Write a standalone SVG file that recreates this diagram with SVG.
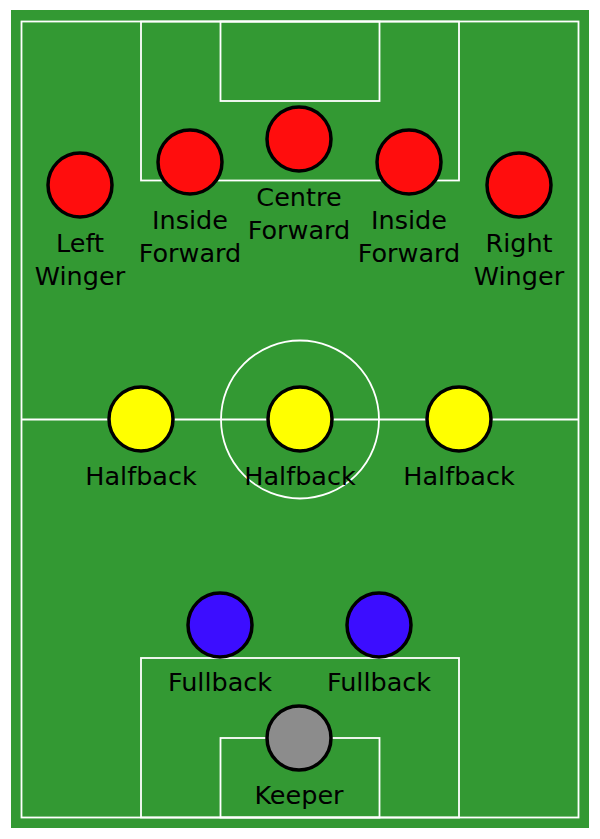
<svg xmlns="http://www.w3.org/2000/svg" width="600" height="839" viewBox="0 0 600 839">
<style>
.line{fill:none;stroke:#fff;stroke-width:1.8}
.p{stroke:#000;stroke-width:3.5}
.fw{fill:#ff0d0d}.hb{fill:#ffff00}.fb{fill:#3c0dff}.gk{fill:#8c8c8c}
text{font-family:"DejaVu Sans","Liberation Sans",sans-serif;font-size:25.5px;fill:#000;text-anchor:middle}
</style>
<rect x="0" y="0" width="600" height="839" fill="#fff"/>
<g id="pitch">
<rect x="11" y="10" width="578" height="818" fill="#339933"/>
<rect class="line" x="21.5" y="21.5" width="557" height="796"/>
<rect class="line" x="141" y="21.5" width="318" height="159"/>
<rect class="line" x="220.5" y="21.5" width="159" height="79.5"/>
<rect class="line" x="141" y="658" width="318" height="159.5"/>
<rect class="line" x="220.5" y="738" width="159" height="79.5"/>
<line class="line" x1="21.5" y1="419.5" x2="578.5" y2="419.5"/>
<circle class="line" cx="300" cy="419.5" r="79"/>
</g>
<g id="connectors"></g>
<g id="left-winger"><circle class="p fw" cx="80" cy="185" r="32"/><text x="80" y="252">Left</text><text x="80" y="285">Winger</text></g>
<g id="inside-forward-left"><circle class="p fw" cx="190" cy="162" r="32"/><text x="190" y="229">Inside</text><text x="190" y="262">Forward</text></g>
<g id="centre-forward"><circle class="p fw" cx="299" cy="139" r="32"/><text x="299" y="206">Centre</text><text x="299" y="239">Forward</text></g>
<g id="inside-forward-right"><circle class="p fw" cx="409" cy="162" r="32"/><text x="409" y="229">Inside</text><text x="409" y="262">Forward</text></g>
<g id="right-winger"><circle class="p fw" cx="519" cy="185" r="32"/><text x="519" y="252">Right</text><text x="519" y="285">Winger</text></g>
<g id="halfback-left"><circle class="p hb" cx="141" cy="419" r="32"/><text x="141" y="485">Halfback</text></g>
<g id="halfback-centre"><circle class="p hb" cx="300" cy="419" r="32"/><text x="300" y="485">Halfback</text></g>
<g id="halfback-right"><circle class="p hb" cx="459" cy="419" r="32"/><text x="459" y="485">Halfback</text></g>
<g id="fullback-left"><circle class="p fb" cx="220" cy="625" r="32"/><text x="220" y="691">Fullback</text></g>
<g id="fullback-right"><circle class="p fb" cx="379" cy="625" r="32"/><text x="379" y="691">Fullback</text></g>
<g id="keeper"><circle class="p gk" cx="299" cy="738" r="32"/><text x="299" y="804">Keeper</text></g>
</svg>
